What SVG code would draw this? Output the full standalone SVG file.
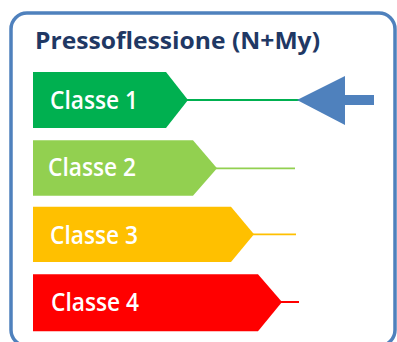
<svg xmlns="http://www.w3.org/2000/svg" width="397" height="342" viewBox="0 0 397 342">
<style>
.lbl{font-family:"Open Sans","Liberation Sans",Arial,sans-serif;font-size:25.5px;font-weight:600;fill:#ffffff}
.title{font-family:"Open Sans","Liberation Sans",Arial,sans-serif;font-size:23px;font-weight:bold;fill:#1F3864}
</style>
<rect x="11" y="13" width="384" height="333" rx="16" ry="16" fill="#ffffff" stroke="#4F81BD" stroke-width="3.5"/>
<text class="title" x="35" y="49" textLength="285" lengthAdjust="spacingAndGlyphs">Pressoflessione (N+My)</text>
<g id="connectors">
<line x1="187" y1="100" x2="299" y2="100" stroke="#00B050" stroke-width="1.8"/>
<line x1="216" y1="168.3" x2="295" y2="168.3" stroke="#92D050" stroke-width="1.8"/>
<line x1="253" y1="234.3" x2="296" y2="234.3" stroke="#FFC000" stroke-width="1.8"/>
<line x1="281" y1="302" x2="299" y2="302" stroke="#FF0000" stroke-width="2"/>
</g>
<g id="arrow">
<polygon points="297,100 345,76 345,95 374,95 374,105 345,105 345,125" fill="#4F81BD"/>
</g>
<g id="classe1">
<polygon points="33,72 166,72 188,100 166,128 33,128" fill="#00B050"/>
<text class="lbl" x="50" y="109" textLength="88" lengthAdjust="spacingAndGlyphs">Classe 1</text>
</g>
<g id="classe2">
<polygon points="33,140.3 193,140.3 217,168.3 193,195.7 33,195.7" fill="#92D050"/>
<text class="lbl" x="48" y="176" textLength="88" lengthAdjust="spacingAndGlyphs">Classe 2</text>
</g>
<g id="classe3">
<polygon points="33,206.7 231,206.7 254,234.3 231,262 33,262" fill="#FFC000"/>
<text class="lbl" x="50" y="243.5" textLength="88" lengthAdjust="spacingAndGlyphs">Classe 3</text>
</g>
<g id="classe4">
<polygon points="33,274.3 258,274.3 282,302 258,331.3 33,331.3" fill="#FF0000"/>
<text class="lbl" x="51" y="311" textLength="88" lengthAdjust="spacingAndGlyphs">Classe 4</text>
</g>
</svg>
